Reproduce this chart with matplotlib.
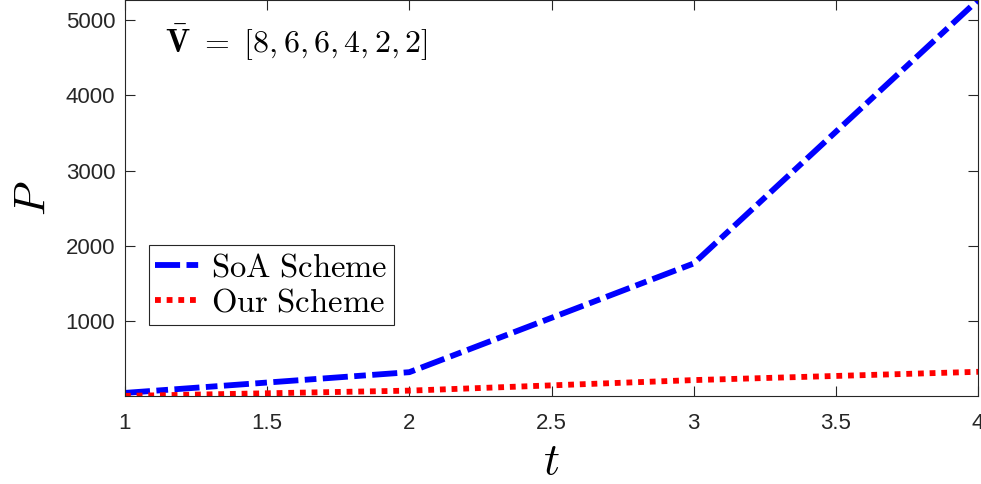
import matplotlib
matplotlib.use("Agg")
import matplotlib.pyplot as plt

plt.rcParams["mathtext.fontset"] = "cm"
plt.rcParams["font.family"] = ["Liberation Sans", "DejaVu Sans"]

t = [1, 2, 3, 4]
soa_scheme = [50, 325, 1768, 5265]
our_scheme = [10, 80, 220, 330]

fig = plt.figure(figsize=(9.81, 4.84), dpi=100)
ax = fig.add_axes([0.1274, 0.182, 0.8696, 0.818])

ax.plot(t, soa_scheme, color="#0000ff", linewidth=4.2,
        dashes=(4.3, 1.1, 2.0, 1.1), label=r"$\mathrm{SoA\ Scheme}$")
ax.plot(t, our_scheme, color="#ff0000", linewidth=4.2,
        dashes=(1.0, 1.0), label=r"$\mathrm{Our\ Scheme}$")

ax.set_xlim(1, 4)
ax.set_ylim(min(our_scheme), max(soa_scheme))
ax.set_xticks([1, 1.5, 2, 2.5, 3, 3.5, 4])
ax.set_xticklabels(["1", "1.5", "2", "2.5", "3", "3.5", "4"])
ax.set_yticks([1000, 2000, 3000, 4000, 5000])

ax.tick_params(direction="in", top=True, right=True, length=7, width=0.8,
               labelsize=16, colors="#262626", pad=7)
ax.tick_params(axis="x", pad=12)
for s in ax.spines.values():
    s.set_color("#262626")
    s.set_linewidth(0.8)

ax.set_xlabel(r"$t$", fontsize=32, labelpad=6)
ax.set_ylabel(r"$P$", fontsize=32, labelpad=8)

ax.text(0.047, 0.895, r"$\bar{\mathbf{V}}\ =\ [8, 6, 6, 4, 2, 2]$",
        transform=ax.transAxes, fontsize=23, va="center", ha="left")

leg = ax.legend(loc="lower left", bbox_to_anchor=(0.028, 0.178), fontsize=23.5,
                fancybox=False, framealpha=1, edgecolor="#262626",
                handlelength=1.4, handletextpad=0.3, borderpad=0.2,
                labelspacing=0.15, borderaxespad=0)
leg.get_frame().set_linewidth(0.8)

fig.savefig("out.png", dpi=100)
